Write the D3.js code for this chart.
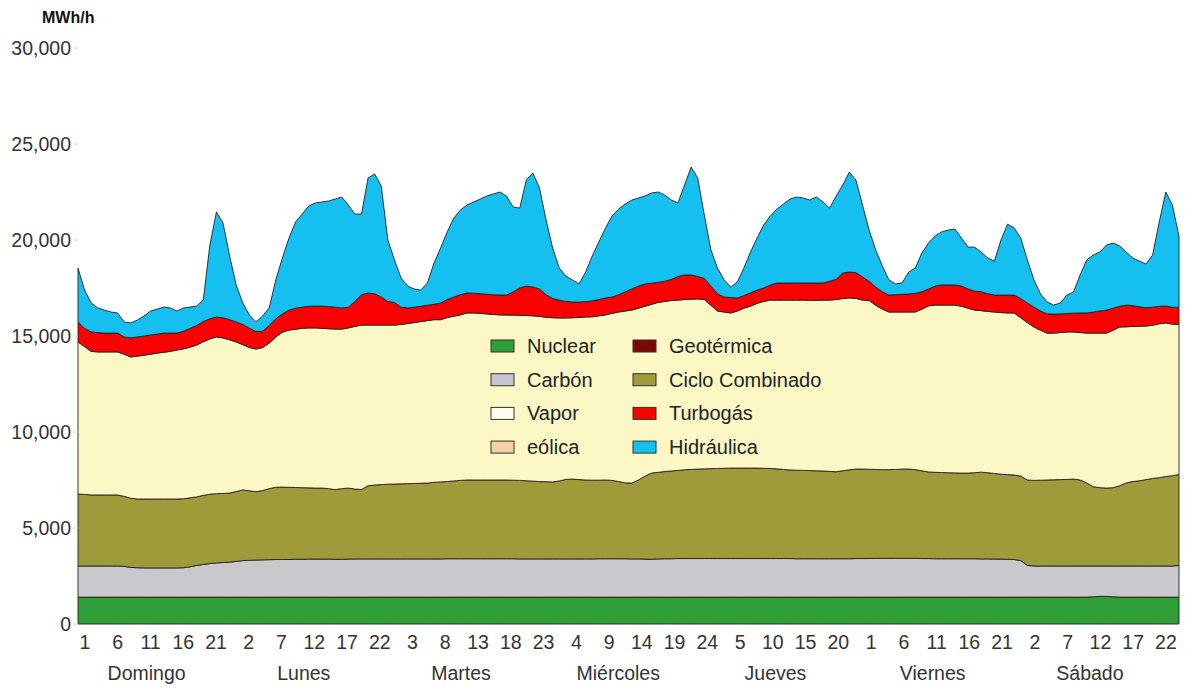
<!DOCTYPE html>
<html>
<head>
<meta charset="utf-8">
<script src="https://cdn.jsdelivr.net/npm/d3@7"></script>
<style>
  body { margin: 0; background: #fff; }
  text { font-family: "Liberation Sans", Arial, sans-serif; fill: #222; }
</style>
</head>
<body>
<div id="chart"></div>
<script>
// hourly generation by source, MWh/h, Sunday hour 1 .. Saturday hour 24
const nuclear = [].concat(
  [1400,1400,1400,1400,1400,1400,1400,1400,1400,1400,1400,1400,1400,1400,1400,1400,1400,1400,1400,1400,1400,1400,1400,1400],
  [1400,1400,1400,1400,1400,1400,1400,1400,1400,1400,1400,1400,1400,1400,1400,1400,1400,1400,1400,1400,1400,1400,1400,1400],
  [1400,1400,1400,1400,1400,1400,1400,1400,1400,1400,1400,1400,1400,1400,1400,1400,1400,1400,1400,1400,1400,1400,1400,1400],
  [1400,1400,1400,1400,1400,1400,1400,1400,1400,1400,1400,1400,1400,1400,1400,1400,1400,1400,1400,1400,1400,1400,1400,1400],
  [1400,1400,1400,1400,1400,1400,1400,1400,1400,1400,1400,1400,1400,1400,1400,1400,1400,1400,1400,1400,1400,1400,1400,1400],
  [1400,1400,1400,1400,1400,1400,1400,1400,1400,1400,1400,1400,1400,1400,1400,1400,1400,1400,1400,1400,1400,1400,1400,1400],
  [1400,1400,1400,1400,1400,1400,1400,1400,1400,1400,1420,1440,1440,1420,1400,1400,1400,1400,1400,1400,1400,1400,1400,1400]
);
const carbon = [].concat(
  [1620,1620,1620,1620,1620,1620,1620,1600,1550,1530,1520,1520,1520,1520,1520,1520,1530,1580,1650,1700,1750,1780,1800,1820],
  [1860,1900,1920,1930,1940,1950,1960,1960,1960,1970,1970,1980,1980,1980,1980,1970,1970,1980,1990,1990,1990,1990,1990,1990],
  [1990,1990,1990,1990,1990,1990,1990,1990,2000,2000,2000,2000,2000,2000,2000,2000,2000,2000,2000,1990,1990,1990,1990,1990],
  [1990,1990,1990,1990,1990,1990,1990,2000,2000,2000,2000,2000,1990,1990,1980,1970,1990,2000,2000,2010,2010,2010,2010,2010],
  [2010,2010,2010,2010,2010,2010,2010,2010,2010,2010,2010,2010,2010,2000,2000,2000,2000,2000,2000,2000,2000,2000,2010,2010],
  [2010,2020,2020,2020,2020,2020,2020,2020,2010,2010,2000,2000,2000,2000,2000,2000,2000,1990,1990,1980,1980,1970,1960,1900],
  [1650,1620,1620,1620,1620,1620,1620,1620,1620,1620,1600,1580,1580,1600,1620,1620,1620,1620,1620,1620,1620,1620,1620,1650]
);
const ciclo = [].concat(
  [3750,3730,3700,3700,3700,3700,3700,3650,3600,3580,3590,3590,3590,3590,3590,3590,3590,3590,3570,3600,3610,3610,3600,3600],
  [3640,3680,3620,3560,3610,3700,3760,3770,3760,3740,3730,3710,3700,3700,3670,3630,3680,3700,3640,3610,3810,3850,3870,3890],
  [3900,3910,3920,3930,3940,3950,3990,4010,4020,4050,4080,4100,4100,4100,4100,4100,4100,4100,4090,4090,4070,4050,4030,4020],
  [4010,4060,4140,4160,4130,4110,4100,4090,4100,4080,4020,3950,3950,4110,4320,4490,4510,4540,4570,4590,4620,4640,4660,4670],
  [4680,4690,4700,4710,4710,4710,4710,4710,4700,4690,4670,4640,4610,4610,4600,4590,4580,4570,4550,4530,4580,4630,4660,4660],
  [4650,4630,4620,4620,4630,4650,4650,4620,4570,4510,4500,4490,4480,4470,4460,4460,4480,4520,4490,4460,4420,4410,4400,4400],
  [4450,4460,4470,4480,4490,4500,4510,4530,4480,4330,4130,4080,4060,4080,4180,4330,4400,4440,4500,4560,4600,4660,4700,4740]
);
const vapor = [].concat(
  [7920,7700,7480,7450,7450,7450,7450,7400,7360,7440,7490,7540,7600,7640,7690,7760,7810,7850,7910,8000,8090,8160,8100,7980],
  [7790,7570,7460,7430,7450,7580,7830,8070,8190,8240,8300,8330,8340,8320,8330,8360,8310,8340,8470,8570,8370,8330,8310,8290],
  [8280,8300,8340,8380,8420,8460,8470,8450,8540,8580,8620,8700,8700,8680,8650,8620,8600,8590,8600,8600,8610,8610,8600,8570],
  [8550,8490,8410,8400,8450,8490,8510,8560,8600,8700,8830,8950,9010,8950,8850,8790,8850,8860,8880,8870,8870,8870,8860,8820],
  [8510,8200,8140,8080,8180,8330,8430,8580,8690,8770,8790,8820,8850,8860,8870,8870,8880,8900,8920,8970,8970,8950,8890,8800],
  [8790,8550,8360,8210,8200,8180,8180,8210,8420,8650,8710,8720,8730,8740,8690,8590,8470,8410,8400,8410,8420,8420,8440,8250],
  [8200,7990,7810,7650,7640,7660,7680,7660,7680,7800,8000,8050,8070,8200,8270,8130,8080,8050,8000,7980,8020,8000,7900,7810]
);
const turbogas = [].concat(
  [1040,950,1010,1010,980,980,980,900,990,1000,1000,1000,990,1000,950,880,920,980,1020,1050,1050,1040,1050,1050],
  [1040,1050,1000,910,850,920,950,950,1040,1100,1100,1130,1140,1160,1150,1140,1100,1080,1300,1580,1670,1630,1460,1230],
  [1180,900,810,800,800,800,800,870,940,1000,1050,1040,1030,1020,1030,1030,1030,1040,1210,1420,1530,1500,1430,1170],
  [1000,930,860,820,800,800,830,850,880,850,900,1000,1100,1150,1160,1100,1050,1050,1100,1230,1280,1260,1170,1100],
  [1000,900,780,800,680,650,700,690,700,780,890,890,890,890,890,900,900,890,980,1050,1330,1350,1340,1200],
  [1000,950,900,880,900,920,940,970,900,880,990,1050,1050,1050,1050,1000,990,980,920,880,910,930,930,1000],
  [1020,1030,1000,1000,990,970,960,980,1020,1050,1100,1150,1200,1150,1080,1130,1080,1010,950,940,910,880,880,890]
);
const hidraulica = [].concat(
  [2810,1990,1510,1280,1200,1100,1050,780,780,880,1040,1250,1300,1360,1310,1150,1210,1110,1010,1120,3840,5470,4930,3320],
  [1920,1120,690,500,790,910,2020,2910,3750,4490,4850,5220,5370,5420,5500,5630,5780,5320,4550,4200,5990,6240,5780,3200],
  [2210,1520,1140,950,840,1160,2150,2860,3520,4110,4410,4580,4750,4930,5110,5250,5370,5160,4420,4160,5520,5940,5260,3890],
  [2630,1670,1320,1150,940,1540,2340,3000,3640,4220,4460,4570,4630,4590,4580,4700,4700,4490,4130,3830,4680,5620,5130,3300],
  [1880,1340,890,550,830,1440,2120,2710,3280,3600,3850,4110,4370,4480,4430,4320,4480,4220,3810,4340,4580,5210,4820,3750],
  [2670,1930,1350,790,560,590,1140,1320,2020,2390,2610,2760,2860,2910,2500,2180,2290,2070,1860,1770,2870,3700,3490,3150],
  [2240,1420,890,620,470,570,960,1100,1980,2760,2970,3070,3390,3390,3140,2760,2480,2380,2280,2720,4390,5940,5320,3700]
);

const days = ["Domingo", "Lunes", "Martes", "Miércoles", "Jueves", "Viernes", "Sábado"];
const hourLabels = ["1","6","11","16","21","2","7","12","17","22","3","8","13","18","23","4","9","14","19","24",
                    "5","10","15","20","1","6","11","16","21","2","7","12","17","22"];
const yTicks = [0, 5000, 10000, 15000, 20000, 25000, 30000];

// stack order bottom -> top
const series = [
  { key: "nuclear", values: nuclear, color: "#2e9e36" },
  { key: "carbon", values: carbon, color: "#c9c9cd" },
  { key: "ciclo", values: ciclo, color: "#a09b3a" },
  { key: "vapor", values: vapor, color: "#fbf8c6" },
  { key: "turbogas", values: turbogas, color: "#fb0000" },
  { key: "hidraulica", values: hidraulica, color: "#15bff0" }
];

// legend, column by column
const legendItems = [
  { name: "Nuclear", color: "#2e9e36" },
  { name: "Carbón", color: "#c6c6d4" },
  { name: "Vapor", color: "#fefdee" },
  { name: "eólica", color: "#f6d0a8" },
  { name: "Geotérmica", color: "#7c0808" },
  { name: "Ciclo Combinado", color: "#a09b3a" },
  { name: "Turbogás", color: "#fb0000" },
  { name: "Hidráulica", color: "#15bff0" }
];

const svgWidth = 1186;
const svgHeight = 690;

const svg = d3.select("#chart").append("svg")
  .attr("width", svgWidth)
  .attr("height", svgHeight)
  .style("display", "block");

svg.append("rect").attr("width", svgWidth).attr("height", svgHeight).attr("fill", "#fff");

// table for the stack
const rows = nuclear.map((d, i) => {
  const row = { i: i };
  series.forEach(s => { row[s.key] = s.values[i]; });
  return row;
});

const xScale = d3.scaleLinear().domain([0, rows.length - 1]).range([78, 1179]);
const labelX = d3.scaleLinear().domain([0, rows.length - 1]).range([85, 1179]);
const yScale = d3.scaleLinear().domain([0, 30000]).range([624, 48]);

const stack = d3.stack().keys(series.map(s => s.key));
const layers = stack(rows);

const area = d3.area()
  .x(d => xScale(d.data.i))
  .y0(d => yScale(d[0]))
  .y1(d => yScale(d[1]));

svg.append("g").selectAll("path")
  .data(layers)
  .enter()
  .append("path")
  .attr("d", area)
  .attr("fill", (d, i) => series[i].color)
  .attr("stroke", "#222")
  .attr("stroke-width", 0.9)
  .attr("stroke-linejoin", "round");

// y axis: labels and faint ticks
const yAxis = svg.append("g");
yAxis.selectAll("line")
  .data(yTicks)
  .enter()
  .append("line")
  .attr("x1", 73).attr("x2", 78)
  .attr("y1", d => yScale(d)).attr("y2", d => yScale(d))
  .attr("stroke", "#d4d4d4");

yAxis.selectAll("text")
  .data(yTicks)
  .enter()
  .append("text")
  .attr("x", 71)
  .attr("y", d => yScale(d) + 7)
  .attr("text-anchor", "end")
  .style("font-size", "19.5px")
  .style("fill", "#333")
  .text(d => d3.format(",")(d));

svg.append("text")
  .attr("x", 42)
  .attr("y", 23)
  .style("font-size", "16px")
  .style("font-weight", "bold")
  .style("fill", "#111")
  .text("MWh/h");

// x axis: hour labels every 5 hours, then day names
svg.append("g").selectAll("text")
  .data(hourLabels)
  .enter()
  .append("text")
  .attr("x", (d, j) => labelX(j * 5))
  .attr("y", 649)
  .attr("text-anchor", "middle")
  .style("font-size", "19.5px")
  .style("fill", "#333")
  .text(d => d);

svg.append("g").selectAll("text")
  .data(days)
  .enter()
  .append("text")
  .attr("x", (d, j) => labelX(j * 24 + 9.4))
  .attr("y", 680)
  .attr("text-anchor", "middle")
  .style("font-size", "19.5px")
  .style("fill", "#333")
  .text(d => d);

// legend sitting on the vapor area
const legend = svg.append("g");
const legendRow = legend.selectAll("g")
  .data(legendItems)
  .enter()
  .append("g")
  .attr("transform", (d, i) => `translate(${i < 4 ? 491 : 633}, ${346 + (i % 4) * 33.7})`);

legendRow.append("rect")
  .attr("x", 0).attr("y", -6)
  .attr("width", 23).attr("height", 12)
  .attr("fill", d => d.color)
  .attr("stroke", "#333")
  .attr("stroke-width", 1);

legendRow.append("text")
  .attr("x", 36)
  .attr("y", 7)
  .style("font-size", "20px")
  .style("fill", "#222")
  .text(d => d.name);
</script>
</body>
</html>
